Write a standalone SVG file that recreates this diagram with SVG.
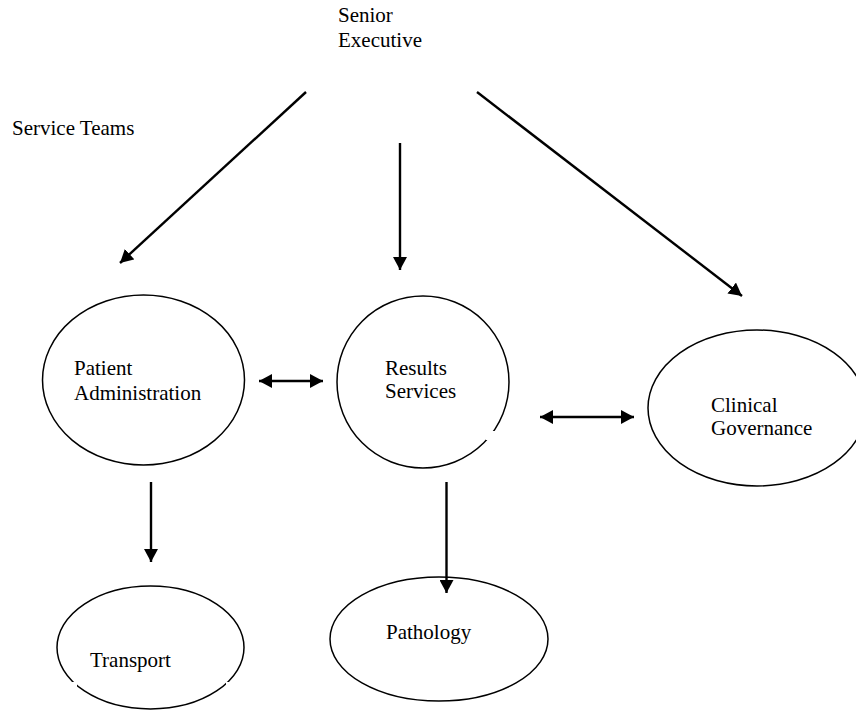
<svg xmlns="http://www.w3.org/2000/svg" width="856" height="710" viewBox="0 0 856 710" font-family="Liberation Serif, Times New Roman, serif">
  <style>
    text { font-family: 'Liberation Serif', 'Times New Roman', serif; font-size: 21px; fill: #000; }
    .node { fill: none; stroke: #000; stroke-width: 1.5; }
    .link { stroke: #000; stroke-width: 2.4; fill: none; }
    .gap { fill: #fff; stroke: none; }
  </style>
  <defs>
    <!-- filled triangular head shared by every connector -->
    <marker id="arrow" viewBox="0 0 13 14" refX="13" refY="7" markerWidth="13" markerHeight="14" markerUnits="userSpaceOnUse" orient="auto-start-reverse">
      <path d="M0,0 L13,7 L0,14 Z" fill="#000"/>
    </marker>
  </defs>
  <rect width="856" height="710" fill="#fff"/>

  <g id="senior-executive">
    <text x="338" y="22">Senior</text>
    <text x="338" y="47">Executive</text>
  </g>

  <g id="service-teams">
    <text x="12" y="135">Service Teams</text>
  </g>

  <g id="patient-administration">
    <ellipse class="node" cx="143.5" cy="380" rx="101" ry="85"/>
    <text x="74" y="375">Patient</text>
    <text x="74" y="400">Administration</text>
  </g>

  <g id="results-services">
    <ellipse class="node" cx="423" cy="382" rx="86" ry="86"/>
    <rect class="gap" x="486" y="431" width="9" height="9"/>
    <text x="385" y="375">Results</text>
    <text x="385" y="398">Services</text>
  </g>

  <g id="clinical-governance">
    <ellipse class="node" cx="757" cy="408" rx="109" ry="78"/>
    <text x="711" y="412">Clinical</text>
    <text x="711" y="435">Governance</text>
  </g>

  <g id="transport">
    <ellipse class="node" cx="150.5" cy="647.5" rx="93.5" ry="61.5"/>
    <rect class="gap" x="71" y="682" width="6" height="7"/>
    <rect class="gap" x="226" y="682" width="6" height="7"/>
    <text x="90" y="667">Transport</text>
  </g>

  <g id="pathology">
    <ellipse class="node" cx="439" cy="639" rx="109" ry="62"/>
    <text x="386" y="639">Pathology</text>
  </g>

  <g id="connectors">
    <line class="link" x1="306" y1="92" x2="120" y2="263" marker-end="url(#arrow)"/>
    <line class="link" x1="400" y1="143" x2="400" y2="270" marker-end="url(#arrow)"/>
    <line class="link" x1="477" y1="92" x2="742" y2="296" marker-end="url(#arrow)"/>
    <line class="link" x1="259" y1="381" x2="323" y2="381" marker-start="url(#arrow)" marker-end="url(#arrow)"/>
    <line class="link" x1="540" y1="417" x2="634" y2="417" marker-start="url(#arrow)" marker-end="url(#arrow)"/>
    <line class="link" x1="151" y1="482" x2="151" y2="562" marker-end="url(#arrow)"/>
    <line class="link" x1="446.5" y1="482" x2="446.5" y2="593" marker-end="url(#arrow)"/>
  </g>
</svg>
